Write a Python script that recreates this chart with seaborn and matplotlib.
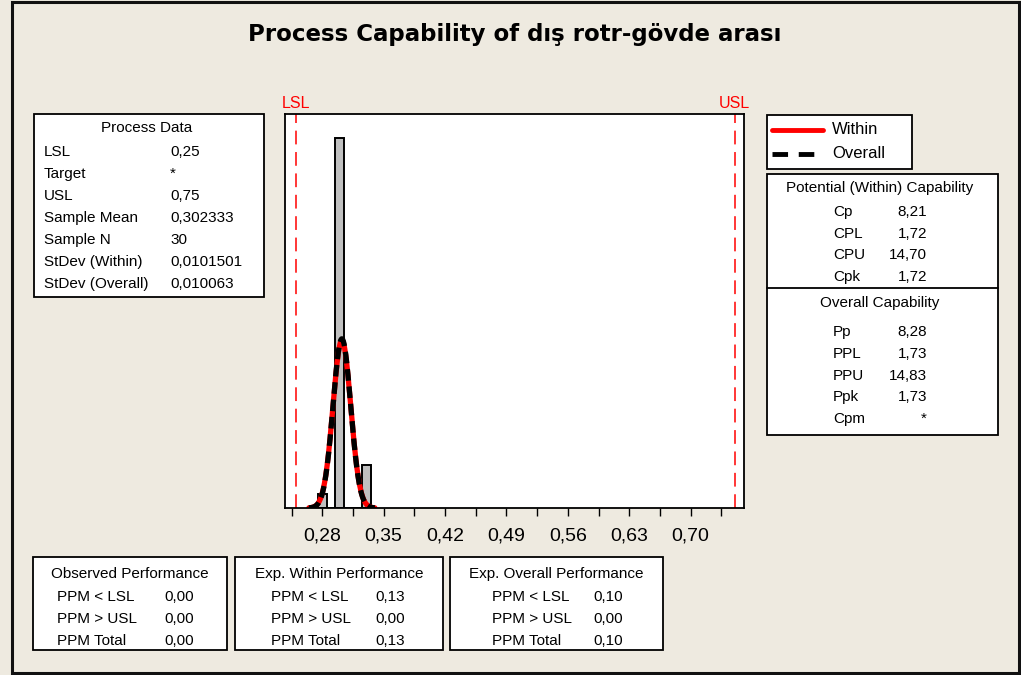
import numpy as np
import pandas as pd
import matplotlib
matplotlib.use("Agg")
import matplotlib.pyplot as plt
from matplotlib.patches import Rectangle
from matplotlib.lines import Line2D
import seaborn as sns

# values
bin_centers = [0.28, 0.30, 0.33]
bin_counts = [1, 26, 3]
bin_width = 0.01
lsl, usl = 0.25, 0.75
sample_mean = 0.302333
sample_n = 30
sd_within = 0.0101501
sd_overall = 0.010063
tick_values = [0.28, 0.35, 0.42, 0.49, 0.56, 0.63, 0.70]
tick_labels = ["0,28", "0,35", "0,42", "0,49", "0,56", "0,63", "0,70"]

process_labels = ["LSL", "Target", "USL", "Sample Mean", "Sample N",
                  "StDev (Within)", "StDev (Overall)"]
process_values = ["0,25", "*", "0,75", "0,302333", "30", "0,0101501", "0,010063"]
within_labels = ["Cp", "CPL", "CPU", "Cpk"]
within_values = ["8,21", "1,72", "14,70", "1,72"]
overall_labels = ["Pp", "PPL", "PPU", "Ppk", "Cpm"]
overall_values = ["8,28", "1,73", "14,83", "1,73", "*"]
perf_titles = ["Observed Performance", "Exp. Within Performance", "Exp. Overall Performance"]
perf_labels = ["PPM < LSL", "PPM > USL", "PPM Total"]
perf_values = [["0,00", "0,00", "0,00"],
               ["0,13", "0,00", "0,13"],
               ["0,10", "0,00", "0,10"]]

W, H = 1021, 675
BG = "#EEEAE0"

sns.set_theme(style="white")
plt.rcParams["font.family"] = ["Liberation Sans", "DejaVu Sans"]
plt.rcParams["text.color"] = "black"
plt.rcParams["xtick.color"] = "black"

fig = plt.figure(figsize=(W / 100, H / 100), dpi=100, facecolor=BG)


def fx(x):
    return x / W


def fy(y):
    return 1 - y / H


def ftext(x, y, s, **kw):
    kw.setdefault("fontsize", 11)
    kw.setdefault("va", "center")
    fig.text(fx(x), fy(y), s, **kw)


def fbox(x0, y0, x1, y1):
    fig.add_artist(Rectangle((fx(x0), fy(y1)), (x1 - x0) / W, (y1 - y0) / H,
                             transform=fig.transFigure, facecolor="white",
                             edgecolor="black", linewidth=1.3, zorder=0))


# outer frame
fig.add_artist(Rectangle((fx(12), fy(673)), (1019 - 12) / W, (673 - 2) / H,
                         transform=fig.transFigure, fill=False,
                         edgecolor="#111111", linewidth=2.2))

ftext(515, 35, "Process Capability of dış rotr-gövde arası",
      ha="center", fontsize=16.5, fontweight="bold", family="DejaVu Sans")

# main histogram
ax = fig.add_axes([fx(285), fy(508), (744 - 285) / W, (508 - 114) / H])
ax.set_facecolor("white")
hist_df = pd.DataFrame({"value": bin_centers, "count": bin_counts})
sns.histplot(data=hist_df, x="value", weights="count", bins=6,
             binrange=(0.275, 0.335), color="#C0C0C0",
             edgecolor="black", linewidth=1.4, alpha=1, ax=ax)

grid = np.linspace(sample_mean - 3.7 * sd_within, sample_mean + 3.7 * sd_within, 200)


def norm_curve(sd):
    return sample_n * bin_width * np.exp(-0.5 * ((grid - sample_mean) / sd) ** 2) / (sd * np.sqrt(2 * np.pi))


curves = pd.DataFrame({"x": grid, "within": norm_curve(sd_within),
                       "overall": norm_curve(sd_overall)})
sns.lineplot(data=curves, x="x", y="within", color="red", linewidth=3.8, ax=ax)
sns.lineplot(data=curves, x="x", y="overall", color="black", linewidth=3.8,
             ax=ax).lines[-1].set_dashes((2.2, 1.1))

for v, name in [(lsl, "LSL"), (usl, "USL")]:
    ax.axvline(v, color="red", linewidth=1.1, dashes=(9, 5))
    ax.text(v, 1.008, name, transform=ax.get_xaxis_transform(), color="red",
            ha="center", va="bottom", fontsize=11.5)

ax.set_xlim(0.2375, 0.7608)
ax.set_ylim(0, 27.7)
ax.set_yticks([])
ax.set_xticks(tick_values)
ax.set_xticklabels(tick_labels, fontsize=14)
ax.set_xticks(np.arange(0.245, 0.74, 0.035), minor=True)
ax.tick_params(axis="x", which="both", direction="out", length=6, width=1,
               color="black", bottom=True, pad=8)
ax.set_xlabel("")
ax.set_ylabel("")
for sp in ax.spines.values():
    sp.set_color("black")
    sp.set_linewidth(1.3)

# process data box
fbox(34, 114, 264, 297)
ftext(147, 128, "Process Data", ha="center")
for i, (lab, val) in enumerate(zip(process_labels, process_values)):
    y = 152 + 22 * i
    ftext(44, y, lab)
    ftext(170, y, val)

# legend box
fbox(767, 115, 912, 169)
fig.add_artist(Line2D([fx(772), fx(823)], [fy(130), fy(130)], color="red",
                      linewidth=3.5, transform=fig.transFigure))
fig.add_artist(Line2D([fx(772), fx(823)], [fy(154), fy(154)], color="black",
                      linewidth=3.5, dashes=(3.2, 2.2), transform=fig.transFigure))
ftext(832, 130, "Within", fontsize=12)
ftext(832, 154, "Overall", fontsize=12)

# capability box
fbox(767, 174, 998, 435)
fig.add_artist(Line2D([fx(767), fx(998)], [fy(288), fy(288)], color="black",
                      linewidth=1.3, transform=fig.transFigure))
ftext(880, 188, "Potential (Within) Capability", ha="center")
for i, (lab, val) in enumerate(zip(within_labels, within_values)):
    y = 212 + 21.7 * i
    ftext(833, y, lab)
    ftext(927, y, val, ha="right")
ftext(880, 303, "Overall Capability", ha="center")
for i, (lab, val) in enumerate(zip(overall_labels, overall_values)):
    y = 332 + 21.8 * i
    ftext(833, y, lab)
    ftext(927, y, val, ha="right")

# performance boxes: (left, right, label x, value x)
box_x = [(33, 227, 57, 164), (235, 443, 271, 375), (450, 663, 492, 593)]
for (x0, x1, lx, vx), title, vals in zip(box_x, perf_titles, perf_values):
    fbox(x0, 557, x1, 650)
    ftext((x0 + x1) / 2, 574, title, ha="center")
    for j, (lab, val) in enumerate(zip(perf_labels, vals)):
        y = 597 + 22 * j
        ftext(lx, y, lab)
        ftext(vx, y, val)

fig.savefig("out.png", dpi=100, facecolor=BG)
